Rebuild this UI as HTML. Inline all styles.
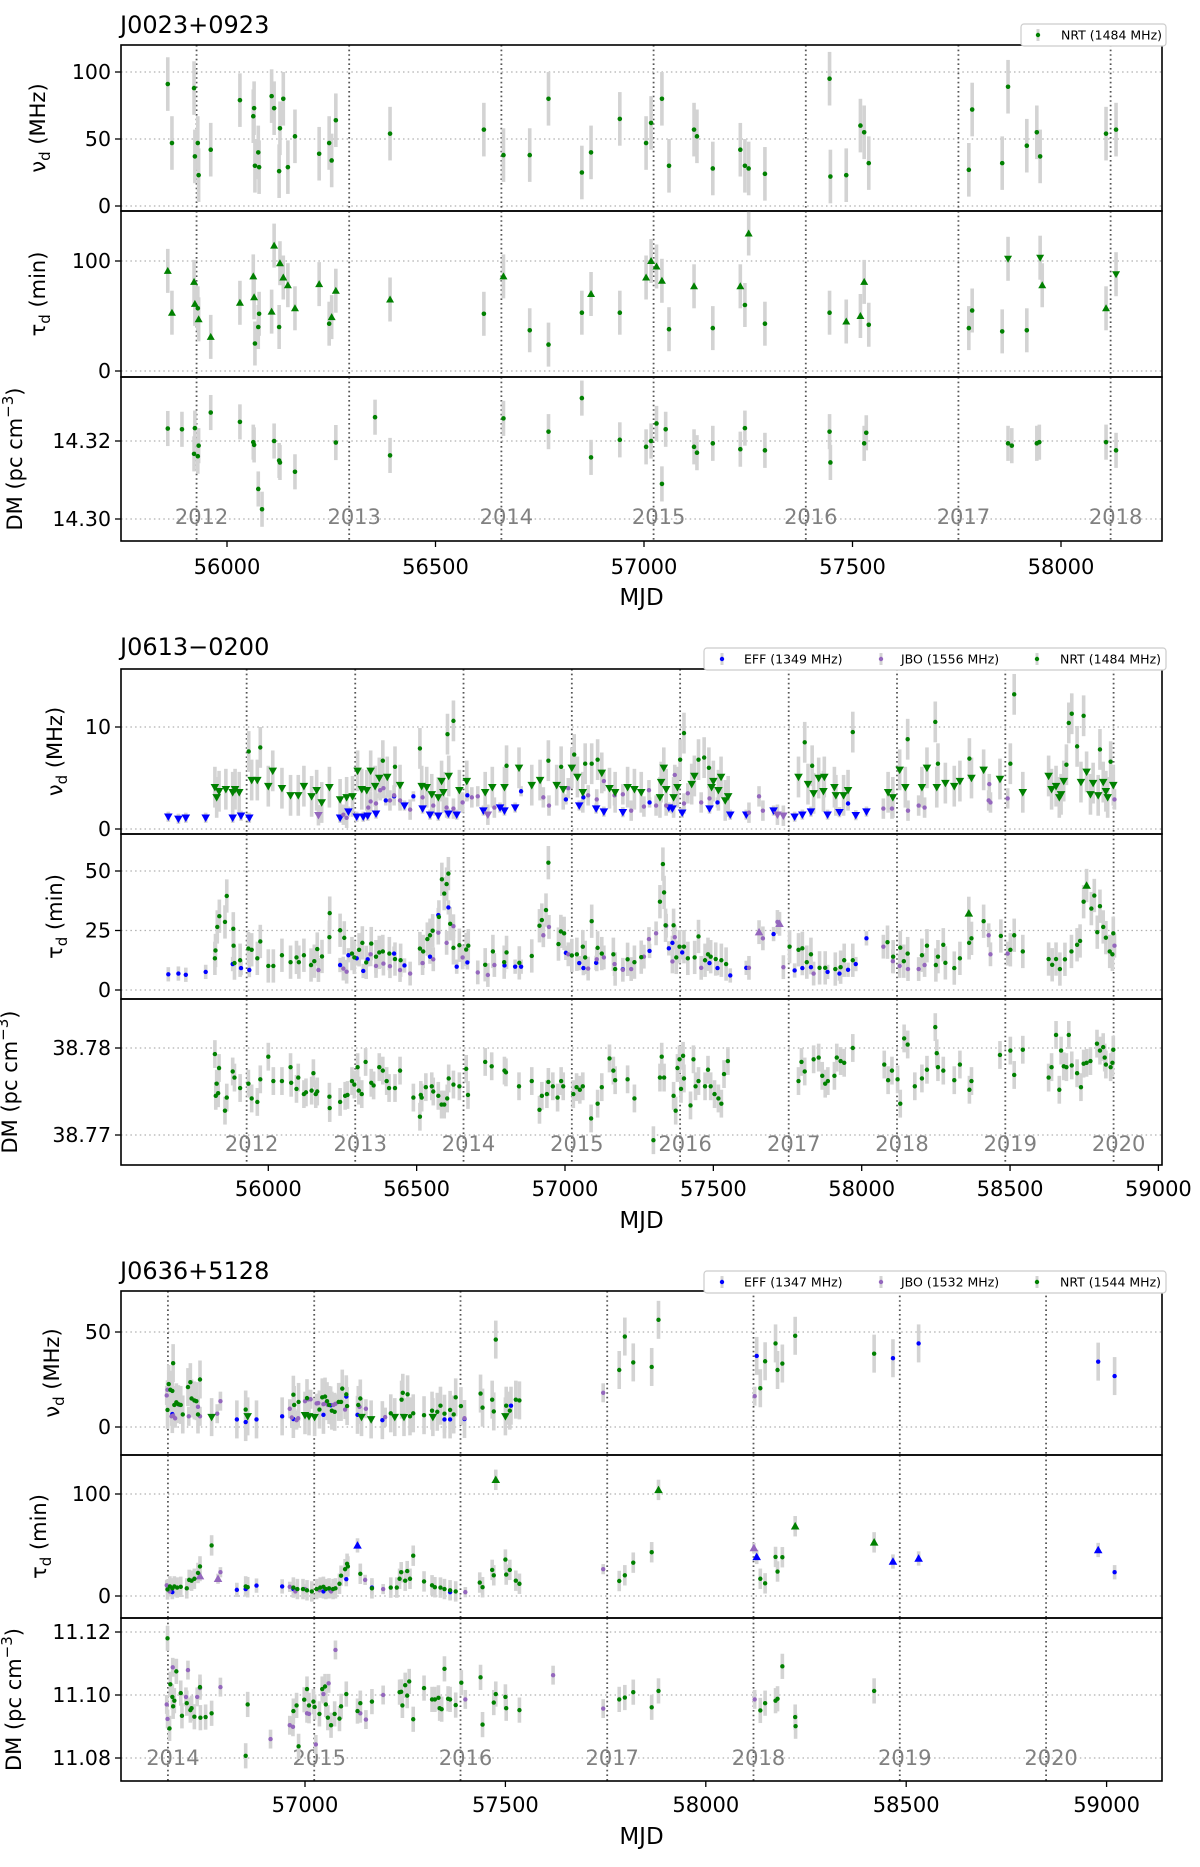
<!DOCTYPE html>
<html><head><meta charset="utf-8"><title>Scintillation parameters</title>
<style>
html,body{margin:0;padding:0;background:#fff;}
svg{display:block;font-family:"DejaVu Sans","Liberation Sans",sans-serif;}
</style></head>
<body>
<svg id="fig" xmlns="http://www.w3.org/2000/svg" width="1200" height="1867" viewBox="0 0 1200 1867"></svg>
<script>
// ================= DATA (MJD, value, marker: 0 dot, 1 lower-limit ▲, 2 upper-limit ▼) =================
const yearLabels = ["2012","2013","2014","2015","2016","2017","2018","2019","2020"];
const yearMJD = [55927,56293,56658,57023,57388,57754,58119,58484,58849];
const p1XTicks = [56000,56500,57000,57500,58000];
const p2XTicks = [56000,56500,57000,57500,58000,58500,59000];
const p3XTicks = [57000,57500,58000,58500,59000];
const p1NuTicks=[0,50,100], p1TauTicks=[0,100], p1DmTicks=[14.30,14.32];
const p2NuTicks=[0,10], p2TauTicks=[0,25,50], p2DmTicks=[38.77,38.78];
const p3NuTicks=[0,50], p3TauTicks=[0,100], p3DmTicks=[11.08,11.10,11.12];

const p1NrtNu = [[55858,91],[55868,47],[55921,88],[55923,37],[55930,47],[55932,23],[55961,42],[56031,79],[56063,67],[56065,73],[56067,30],[56075,40],[56077,29],[56107,82],[56113,73],[56125,26],[56127,58],[56135,80],[56146,29],[56163,52],[56221,39],[56245,47],[56251,34],[56261,64],[56391,54],[56616,57],[56663,38],[56726,38],[56771,80],[56851,25],[56873,40],[56942,65],[57005,47],[57017,62],[57043,80],[57060,30],[57120,57],[57127,52],[57165,28],[57231,42],[57242,30],[57251,28],[57290,24],[57445,95],[57447,22],[57485,23],[57519,60],[57528,55],[57539,32],[57779,27],[57787,72],[57859,32],[57873,89],[57918,45],[57942,55],[57950,37],[58108,54],[58132,57]];
const p1NrtTau = [[55858,91,1],[55868,53,1],[55921,81,1],[55923,61,1],[55930,57,0],[55932,47,1],[55961,31,1],[56031,62,1],[56063,86,1],[56065,67,1],[56067,25,0],[56075,40,0],[56077,52,0],[56107,54,1],[56113,114,1],[56125,40,0],[56127,98,1],[56135,85,1],[56146,78,1],[56163,57,1],[56221,79,1],[56245,43,0],[56251,49,1],[56261,73,1],[56391,65,1],[56616,52,0],[56663,86,1],[56726,37,0],[56771,24,0],[56851,53,0],[56873,70,1],[56942,53,0],[57005,85,1],[57017,100,1],[57030,95,1],[57043,82,1],[57060,38,0],[57120,77,1],[57165,39,0],[57231,77,1],[57242,60,0],[57251,125,1],[57290,43,0],[57445,53,0],[57485,45,1],[57519,50,1],[57528,81,1],[57539,42,0],[57779,39,0],[57787,55,0],[57859,36,0],[57873,102,2],[57918,37,0],[57950,103,2],[57955,78,1],[58108,57,1],[58132,88,2]];
const p1NrtDm = [[55858,14.3232],[55892,14.3230],[55921,14.3167],[55923,14.3233],[55930,14.3161],[55932,14.3188],[55961,14.3273],[56031,14.3249],[56063,14.3197],[56065,14.3190],[56075,14.3077],[56084,14.3025],[56113,14.3200],[56125,14.3150],[56127,14.3145],[56163,14.3121],[56261,14.3196],[56355,14.3261],[56391,14.3163],[56663,14.3258],[56771,14.3224],[56851,14.3310],[56873,14.3158],[56942,14.3203],[57005,14.3185],[57017,14.3200],[57030,14.3245],[57043,14.3090],[57052,14.3230],[57120,14.3185],[57127,14.3170],[57165,14.3194],[57231,14.3179],[57242,14.3233],[57290,14.3176],[57445,14.3224],[57447,14.3145],[57528,14.3194],[57533,14.3221],[57873,14.3194],[57882,14.3188],[57942,14.3194],[57948,14.3197],[58108,14.3197],[58132,14.3176]];

const p2EffNu = [[55663,1.2,2],[55697,1.0,2],[55722,1.1,2],[55789,1.1,2],[55880,1.1,2],[55908,1.3,2],[55936,1.1,2],[56242,1.1,2],[56270,1.7,2],[56298,1.2,2],[56320,1.2,2],[56335,1.3,2],[56363,1.5,2],[56396,2.8,0],[56424,3.2,0],[56459,2.3,2],[56489,3.2,0],[56520,2.0,2],[56545,1.4,2],[56573,1.3,2],[56607,1.5,2],[56635,1.4,2],[56671,3.3,0],[56725,1.8,2],[56781,2.1,2],[56796,1.8,2],[56832,2.1,2],[56852,3.7,0],[57003,2.9,0],[57048,2.3,2],[57062,3.1,0],[57105,2.0,2],[57131,1.7,2],[57195,1.65,2],[57285,2.6,0],[57350,2.1,2],[57362,2.0,2],[57395,1.6,2],[57487,2.0,2],[57514,2.6,0],[57557,1.4,2],[57611,1.4,2],[57703,1.8,2],[57774,1.2,2],[57800,1.4,2],[57829,1.7,2],[57885,1.4,2],[57925,1.65,2],[57954,2.5,0],[57980,1.35,2],[58016,1.7,2]];
const p2JboNu = [[56169,1.35,2],[56253,1.4,0],[56264,1.1,0],[56337,2.1,0],[56345,2.7,0],[56363,2.5,0],[56377,3.8,0],[56388,4.0,0],[56410,2.8,0],[56424,3.3,0],[56444,2.8,0],[56478,1.9,0],[56520,3.1,0],[56556,2.3,0],[56601,2.1,0],[56624,2.0,0],[56655,2.6,0],[56686,3.1,0],[56706,3.2,0],[56740,1.4,2],[56762,2.1,0],[56927,3.1,0],[56946,2.3,0],[57011,4.0,0],[57078,3.3,0],[57107,2.9,0],[57131,4.7,0],[57167,3.3,0],[57195,3.4,0],[57223,1.8,0],[57266,2.2,0],[57283,3.8,0],[57307,2.3,0],[57341,2.3,0],[57370,5.3,0],[57401,2.5,0],[57414,3.5,0],[57459,2.6,0],[57487,3.0,0],[57620,1.6,0],[57654,3.2,0],[57667,1.8,0],[57716,1.4,2],[57736,1.3,2],[58073,2.0,0],[58102,2.0,0],[58156,1.8,0],[58192,2.3,0],[58212,2.1,0],[58428,2.8,0],[58434,2.6,0],[58430,4.4,0],[58492,3.0,0],[58852,2.9,0]];
const p2NrtNu = [[55820,4.1,2],[55826,3.1,2],[55834,3.7,2],[55857,3.9,2],[55880,3.6,2],[55888,3.9,2],[55902,3.6,2],[55934,7.6,0],[55944,4.8,2],[55963,4.8,2],[55973,8.0,0],[56000,4.2,2],[56015,5.7,2],[56046,4.0,2],[56075,3.3,2],[56101,3.3,2],[56120,4.2,2],[56146,3.2,2],[56163,3.8,2],[56180,2.6,2],[56206,4.1,2],[56242,2.9,2],[56264,3.1,2],[56284,3.2,2],[56301,5.7,2],[56315,3.9,2],[56332,3.8,2],[56345,5.7,2],[56360,4.2,2],[56374,5.0,2],[56386,6.7,0],[56401,5.1,2],[56427,6.1,0],[56444,4.3,2],[56511,7.9,0],[56517,4.2,2],[56534,4.1,2],[56551,3.4,2],[56573,3.1,2],[56584,4.7,2],[56590,3.6,2],[56604,9.3,0],[56608,5.2,2],[56624,10.6,0],[56644,3.8,2],[56669,4.7,2],[56731,3.6,2],[56755,4.1,2],[56796,4.1,2],[56803,6.2,0],[56845,6.0,2],[56888,4.3,2],[56916,4.8,2],[56944,6.7,0],[56972,4.3,2],[56987,6.1,0],[56994,3.9,2],[57023,6.0,2],[57031,7.3,0],[57042,5.1,2],[57060,3.6,2],[57068,6.4,0],[57090,6.4,0],[57110,6.8,0],[57124,5.5,2],[57150,4.0,2],[57169,3.6,2],[57211,4.1,2],[57234,3.9,2],[57257,3.6,2],[57320,3.1,2],[57324,4.6,2],[57333,6.0,2],[57341,3.9,2],[57366,3.1,2],[57379,4.1,2],[57388,6.8,0],[57401,9.4,0],[57427,4.4,2],[57436,5.2,2],[57450,6.8,0],[57469,7.0,0],[57485,6.0,0],[57494,4.1,2],[57500,4.7,2],[57517,3.8,2],[57526,5.1,2],[57540,2.8,2],[57550,3.2,2],[57787,5.1,2],[57808,8.5,0],[57819,4.4,2],[57833,6.2,0],[57838,3.5,2],[57855,5.0,2],[57871,3.7,2],[57874,5.1,2],[57908,4.1,2],[57913,3.3,2],[57939,3.3,2],[57954,3.8,2],[57970,9.5,0],[58089,3.6,2],[58105,3.1,2],[58128,5.8,2],[58147,4.1,2],[58155,8.8,0],[58203,4.1,2],[58220,6.0,2],[58248,10.5,0],[58253,4.1,2],[58257,6.4,0],[58282,4.5,2],[58312,4.2,2],[58331,4.7,2],[58363,6.9,0],[58370,5.0,2],[58411,5.8,2],[58466,4.9,2],[58501,6.4,0],[58514,13.2,0],[58543,3.6,2],[58630,5.2,2],[58640,3.9,2],[58655,4.2,2],[58666,3.1,2],[58672,3.4,2],[58681,4.7,2],[58690,6.3,0],[58698,10.4,0],[58708,11.3,0],[58726,8.1,0],[58739,4.6,2],[58748,11.1,0],[58758,5.6,2],[58771,3.4,2],[58780,4.5,2],[58797,3.3,2],[58803,7.8,0],[58814,4.6,2],[58823,3.7,2],[58829,3.1,2],[58839,6.6,0],[58848,4.3,2]];
const p2EffTau = [[55663,6.6],[55697,6.9],[55722,6.4],[55789,7.6],[55880,10.9],[55908,9.2],[55936,8.4],[56242,10.5],[56270,14.6],[56298,13.3],[56320,8.0],[56335,12.9],[56424,15.3],[56459,10.3],[56545,14.0],[56573,31.5],[56607,34.7],[56635,9.8],[56671,11.6],[56796,10.3],[56832,9.8],[56852,9.8],[57003,15.6],[57048,11.3],[57062,9.2],[57105,11.4],[57195,8.7],[57285,16.4],[57350,17.5],[57362,19.8],[57395,15.8],[57487,11.3],[57514,9.2],[57557,6.1],[57611,9.3],[57703,23.5],[57774,8.2],[57800,9.2],[57829,9.6],[57885,7.6],[57925,6.9],[57954,8.5],[57980,10.9],[58016,21.7]];
const p2JboTau = [[56169,8.4],[56253,9.0],[56264,7.7],[56345,15.0],[56363,10.1],[56388,11.1],[56410,10.0],[56444,8.4],[56478,6.9],[56520,11.3],[56556,12.9],[56573,24.1],[56601,19.8],[56624,26.8],[56655,13.7],[56706,7.4],[56740,6.3],[56762,10.5],[56927,23.0],[56946,26.5],[57011,15.0],[57078,9.0],[57107,12.9],[57131,13.7],[57167,10.9],[57195,8.5],[57223,8.8],[57266,14.0],[57283,21.4],[57307,23.8],[57341,27.0],[57362,12.0],[57370,22.2],[57459,9.3],[57620,9.3],[57654,24.3,1],[57667,21.7],[57716,28.6],[57723,27.8,1],[57736,9.6],[57838,6.9],[58073,18.2],[58105,12.1],[58128,10.1],[58156,8.8],[58192,8.8],[58212,10.5],[58428,23.0],[58434,15.0],[58492,15.3],[58852,18.6]];
const p2NrtTau = [[55820,13.3],[55822,16.6],[55828,26.5],[55835,31.0],[55854,28.6],[55860,39.5],[55882,25.7],[55883,18.6],[55886,11.3],[55905,12.5],[55933,17.4],[55944,16.9],[55963,13.3],[55973,20.4],[56000,10.1],[56017,10.1],[56046,14.6],[56075,11.7],[56095,13.7],[56103,11.7],[56120,14.6],[56144,10.5],[56155,12.1],[56165,17.2],[56181,14.1],[56206,22.2],[56207,32.3],[56242,25.1],[56256,21.9],[56282,15.3],[56290,13.7],[56306,16.9],[56317,19.8],[56330,11.6],[56347,19.5],[56363,14.0],[56374,15.8],[56386,16.2],[56408,15.3],[56427,13.0],[56446,12.5],[56511,17.4],[56522,16.2],[56536,21.4],[56545,23.0],[56554,24.9],[56575,30.7],[56585,46.5],[56593,40.5],[56601,44.5],[56607,48.9],[56613,27.8],[56624,17.7],[56644,18.8],[56667,17.0],[56674,18.6],[56731,10.6],[56757,16.2],[56795,11.7],[56803,15.8],[56846,11.4],[56888,14.3],[56914,27.0],[56922,29.4],[56936,33.6],[56944,53.5],[56978,19.3],[56986,24.6],[56997,23.8],[57023,14.5],[57040,15.0],[57060,18.2],[57068,13.7],[57090,28.9],[57110,17.7],[57124,15.3],[57163,15.0],[57169,8.8],[57211,12.9],[57234,11.7],[57257,13.8],[57320,37.1],[57330,52.9],[57334,41.0],[57339,27.2],[57366,27.2],[57375,13.7],[57386,18.2],[57401,18.2],[57414,13.3],[57437,13.7],[57450,22.5],[57472,12.5],[57482,15.0],[57491,14.0],[57508,13.0],[57527,12.5],[57543,10.9],[57757,18.2],[57787,16.9],[57800,17.5],[57815,11.7],[57829,15.0],[57858,9.3],[57877,9.3],[57911,8.8],[57929,9.6],[57941,12.5],[57970,12.5],[58087,20.1],[58106,14.0],[58130,17.8],[58142,12.1],[58155,15.3],[58203,14.6],[58220,18.6],[58250,10.5],[58257,14.0],[58275,19.0],[58282,11.4],[58312,9.2],[58331,13.3],[58361,32.2,1],[58362,19.8],[58370,21.7],[58411,28.9],[58469,22.7],[58501,16.9],[58514,23.0],[58543,16.2],[58630,13.0],[58642,10.6],[58655,13.0],[58668,8.8],[58685,12.9],[58707,16.2],[58726,19.0],[58736,20.6],[58748,37.1],[58758,43.9,1],[58774,34.2],[58784,39.7],[58794,24.3],[58803,35.2],[58814,26.5],[58823,22.0],[58836,16.2],[58845,15.0],[58848,23.8]];
const p2NrtDm = [[55820,38.7793],[55823,38.7745],[55826,38.7759],[55831,38.7748],[55834,38.7777],[55854,38.7728],[55860,38.7743],[55880,38.7773],[55886,38.7766],[55905,38.7754],[55933,38.7759],[55944,38.7742],[55963,38.7738],[55973,38.7764],[56000,38.7790],[56017,38.7762],[56046,38.7762],[56075,38.7778],[56077,38.7760],[56095,38.7753],[56101,38.7766],[56120,38.7747],[56127,38.7749],[56146,38.7751],[56152,38.7771],[56160,38.7747],[56165,38.7750],[56206,38.7744],[56207,38.7731],[56242,38.7738],[56259,38.7745],[56267,38.7746],[56282,38.7762],[56290,38.7758],[56301,38.7778],[56305,38.7751],[56315,38.7747],[56328,38.7784],[56347,38.7760],[56355,38.7757],[56374,38.7778],[56386,38.7774],[56399,38.7762],[56407,38.7754],[56427,38.7754],[56444,38.7774],[56489,38.7743],[56511,38.7721],[56514,38.7746],[56517,38.7743],[56531,38.7755],[56551,38.7756],[56556,38.7750],[56573,38.7745],[56584,38.7735],[56593,38.7735],[56603,38.7742],[56608,38.7765],[56624,38.7758],[56644,38.7756],[56667,38.7776],[56673,38.7746],[56731,38.7784],[56753,38.7779],[56796,38.7774],[56801,38.7772],[56845,38.7756],[56888,38.7762],[56914,38.7729],[56922,38.7745],[56939,38.7747],[56944,38.7761],[56959,38.7756],[56975,38.7743],[56987,38.7762],[56994,38.7756],[57028,38.7747],[57039,38.7755],[57050,38.7752],[57060,38.7756],[57088,38.7719],[57110,38.7736],[57124,38.7755],[57150,38.7788],[57163,38.7774],[57169,38.7763],[57211,38.7764],[57234,38.7742],[57298,38.7694],[57320,38.7766],[57326,38.7790],[57334,38.7766],[57366,38.7745],[57373,38.7728],[57379,38.7777],[57386,38.7787],[57391,38.7753],[57398,38.7791],[57401,38.7765],[57423,38.7734],[57433,38.7787],[57440,38.7756],[57450,38.7762],[57472,38.7756],[57482,38.7775],[57491,38.7756],[57504,38.7747],[57517,38.7742],[57527,38.7736],[57536,38.7770],[57549,38.7785],[57787,38.7762],[57797,38.7784],[57808,38.7773],[57838,38.7787],[57855,38.7789],[57867,38.7768],[57877,38.7759],[57886,38.7762],[57908,38.7768],[57916,38.7789],[57929,38.7785],[57941,38.7783],[57970,38.7800],[58076,38.7781],[58089,38.7763],[58102,38.7774],[58121,38.7764],[58130,38.7736],[58143,38.7811],[58155,38.7804],[58179,38.7756],[58203,38.7765],[58220,38.7775],[58248,38.7824],[58253,38.7794],[58257,38.7778],[58275,38.7774],[58312,38.7763],[58331,38.7781],[58363,38.7752],[58370,38.7762],[58466,38.7792],[58501,38.7797],[58514,38.7769],[58543,38.7798],[58630,38.7766],[58640,38.7778],[58655,38.7815],[58666,38.7752],[58672,38.7797],[58681,38.7779],[58690,38.7778],[58698,38.7815],[58708,38.7780],[58726,38.7771],[58739,38.7755],[58748,38.7782],[58758,38.7783],[58771,38.7785],[58793,38.7805],[58803,38.7797],[58814,38.7801],[58819,38.7789],[58823,38.7781],[58839,38.7778],[58845,38.7783],[58848,38.7798]];

const p3EffNu = [[56669,6.8],[56830,4.0],[56852,2.6],[56879,4.0],[56943,5.6],[56971,4.2],[57046,6.4],[57064,11.4],[57103,16.0],[57131,6.4],[57193,3.6],[57348,4.0],[57362,4.0],[57398,4.2],[57514,11.2],[58127,37.4],[58467,36.2],[58531,44.0],[58979,34.4],[59020,26.8]];
const p3JboNu = [[56655,16.6],[56657,19.6],[56667,5.6],[56671,6.0],[56676,4.6],[56686,11.6],[56710,5.6],[56733,10.6],[56738,5.6],[56781,7.0],[56789,13.6],[56962,9.6],[56967,5.0],[56979,3.6],[56983,4.6],[57000,13.6],[57008,14.6],[57014,14.6],[57029,12.4],[57033,12.6],[57046,12.0],[57052,12.6],[57057,11.6],[57071,11.6],[57076,12.2],[57100,9.2],[57136,10.6],[57152,9.6],[57200,5.2],[57398,4.6],[57744,18.0],[58122,16.2]];
const p3NrtNu = [[56657,9,0],[56660,22.6,0],[56664,19.6,0],[56669,19,0],[56671,33.6,0],[56674,11.6,0],[56679,13,0],[56684,12,0],[56690,11.6,0],[56695,6.6,0],[56708,21,0],[56714,23.6,0],[56717,15,0],[56724,14,0],[56729,13.6,0],[56733,6.6,0],[56738,25,0],[56767,5.2,2],[56852,9.2,0],[56857,5.6,2],[56971,17,0],[56973,11.6,0],[56984,13.2,0],[57000,6.2,2],[57005,15.2,0],[57010,5.6,2],[57024,5.2,2],[57036,9.2,0],[57043,15.6,0],[57050,16,0],[57055,13.6,0],[57060,11.6,0],[57067,8.6,0],[57074,8,0],[57084,13.2,0],[57090,13.2,0],[57093,20.2,0],[57103,17.2,0],[57105,11,0],[57133,11.6,0],[57138,15,0],[57141,5.2,2],[57165,4,2],[57214,7.2,0],[57224,5.2,2],[57241,14.4,0],[57244,18,0],[57247,5.2,2],[57256,17.2,0],[57262,5.6,0],[57270,7.2,0],[57297,6.2,0],[57317,8.6,0],[57319,5.2,2],[57330,8,0],[57338,11.2,0],[57348,7,0],[57362,9,0],[57371,6.6,0],[57376,15.6,0],[57389,11,0],[57438,17.6,0],[57443,10.2,0],[57467,14.4,0],[57471,8.2,0],[57476,46,0],[57500,5.6,2],[57502,11.2,0],[57511,8.6,0],[57526,14.4,0],[57535,14,0],[57784,30,0],[57798,47.6,0],[57819,34,0],[57865,31.6,0],[57882,56.4,0],[58136,20.4,0],[58148,34.6,0],[58174,44,0],[58179,30,0],[58191,33.4,0],[58223,48,0],[58420,38.6,0]];
const p3EffTau = [[56669,3.8,0],[56830,6,0],[56852,6.8,0],[56879,10.2,0],[56943,9.4,0],[56971,6.8,0],[57046,4.5,0],[57064,5.3,0],[57103,16.5,0],[57131,49.6,1],[57167,8.3,0],[57362,3.8,0],[58127,38.3,1],[58467,33.8,1],[58531,36.8,1],[58979,45.1,1],[59020,23.3,0]];
const p3JboTau = [[56655,10.5,0],[56662,4.5,0],[56738,19.5,1],[56783,16.9,1],[56789,23.3,0],[56962,9.0,0],[56976,4.5,0],[57000,6.8,0],[57036,5.6,0],[57065,4.5,0],[57150,15.8,0],[57195,6.8,0],[57400,3.8,0],[57744,26.3,0],[58120,47,1]];
const p3NrtTau = [[56657,6.4,0],[56663,9.4,0],[56669,7.5,0],[56674,9.4,0],[56681,8.3,0],[56690,9.0,0],[56705,7.5,0],[56711,15.8,0],[56717,15,0],[56724,16.9,0],[56733,22.6,0],[56738,29,0],[56767,49.6,0],[56852,9.4,0],[56857,8.6,0],[56971,8.3,0],[56981,6.8,0],[56995,6.8,0],[57005,5.6,0],[57017,4.5,0],[57029,6.8,0],[57038,8.3,0],[57046,9.0,0],[57052,6.8,0],[57060,7.5,0],[57070,6.8,0],[57076,7.5,0],[57086,12,0],[57090,19.9,0],[57100,26.3,0],[57105,31.6,0],[57107,29,0],[57138,21.8,0],[57167,7.5,0],[57214,8.3,0],[57229,8.3,0],[57236,16.9,0],[57240,23.3,0],[57250,15,0],[57255,24.4,0],[57262,16.9,0],[57270,39.5,0],[57297,14.3,0],[57317,10.5,0],[57324,8.6,0],[57338,8.3,0],[57348,6.8,0],[57362,5.6,0],[57376,4.5,0],[57436,13.2,0],[57443,8.6,0],[57467,25.6,0],[57471,20.3,0],[57476,113.9,1],[57500,35.7,0],[57502,21,0],[57511,25.6,0],[57526,15,0],[57535,12,0],[57784,14.7,0],[57798,20.3,0],[57819,32.7,0],[57865,42.9,0],[57882,104,1],[58136,16.9,0],[58148,12.4,0],[58174,38.3,0],[58179,24,0],[58191,38,0],[58223,68.4,1],[58420,52.6,1]];
const p3JboDm = [[56655,11.0970],[56657,11.0924],[56670,11.1088],[56703,11.0994],[56708,11.1079],[56731,11.0994],[56738,11.1022],[56789,11.1025],[56914,11.0860],[56962,11.0904],[56970,11.0899],[57005,11.0942],[57010,11.0940],[57027,11.0843],[57046,11.1003],[57059,11.1037],[57076,11.1143],[57138,11.0942],[57152,11.0922],[57195,11.1000],[57400,11.0986],[57619,11.1063],[57744,11.0957],[58122,11.0986]];
const p3NrtDm = [[56657,11.1180],[56662,11.0894],[56664,11.1034],[56669,11.0994],[56671,11.0964],[56674,11.0982],[56679,11.1075],[56690,11.1006],[56693,11.0934],[56705,11.0974],[56714,11.0952],[56717,11.0958],[56724,11.0931],[56738,11.1025],[56739,11.0928],[56752,11.0930],[56767,11.0942],[56852,11.0807],[56857,11.0970],[56971,11.0949],[56979,11.0967],[56984,11.0837],[56998,11.0985],[57005,11.1019],[57010,11.0967],[57021,11.0979],[57024,11.0962],[57036,11.0940],[57043,11.1019],[57050,11.1027],[57052,11.0970],[57057,11.0928],[57065,11.0904],[57074,11.0940],[57086,11.0925],[57090,11.0964],[57103,11.1003],[57131,11.0949],[57138,11.0974],[57167,11.0979],[57236,11.1009],[57240,11.1010],[57243,11.0967],[57250,11.1031],[57255,11.0998],[57260,11.1043],[57270,11.0923],[57297,11.1022],[57317,11.0986],[57324,11.0986],[57333,11.0991],[57336,11.0958],[57341,11.0955],[57348,11.1083],[57357,11.0988],[57362,11.0986],[57376,11.0968],[57390,11.1039],[57438,11.1056],[57443,11.0906],[57471,11.0976],[57476,11.1003],[57500,11.0994],[57502,11.0958],[57535,11.0952],[57784,11.0986],[57798,11.0992],[57819,11.1009],[57865,11.0961],[57882,11.1013],[58136,11.0951],[58148,11.0974],[58174,11.0982],[58179,11.0988],[58191,11.1091],[58223,11.0930],[58224,11.0901],[58420,11.1013]];

// ================= RENDERING =================
const NS="http://www.w3.org/2000/svg";
const svg=document.getElementById('fig');
const COL={EFF:"#0000ff",JBO:"#9467bd",NRT:"#008000"};
function mk(tag,attrs,parent){const e=document.createElementNS(NS,tag);for(const k in attrs)e.setAttribute(k,attrs[k]);(parent||svg).appendChild(e);return e;}
function txt(s,attrs,parent){const e=mk('text',attrs,parent);e.textContent=s;return e;}

let clipId=0;
function drawPanel(P){
  const g=mk('g',{});
  
  
  const xs=m=>P.x0+(m-P.m0)*P.kx;
  const L=P.left,R=P.right;
  // title
  const t=txt(P.title,{x:L-1,y:P.titleY,'font-size':24,fill:'#000'},g);
  
  
  P.subs.forEach((S,si)=>{
    const ys=v=>S.y0+(v-S.v0)*S.ky;
    const sg=mk('g',{},g);
    
    
    const cid='c'+(clipId++);
    const cp=mk('clipPath',{id:cid},sg);
    mk('rect',{x:L,y:S.top,width:R-L,height:S.bot-S.top},cp);
    // horizontal grid + ticks
    S.ticks.forEach(v=>{
      const y=ys(v);
      const gl=mk('line',{x1:L,x2:R,y1:y,y2:y,stroke:'#b0b0b0','stroke-width':1.2,'stroke-dasharray':'1.5,3.2'},sg);
      
      
      mk('line',{x1:L-6,x2:L,y1:y,y2:y,stroke:'#000','stroke-width':1.3},sg);
      const tl=txt(v.toFixed(S.dec),{x:L-10,y:y+7,'font-size':20.5,'text-anchor':'end',fill:'#000'},sg);
      
      
    });
    // year lines
    yearMJD.forEach((ym,i)=>{
      const x=xs(ym); if(x<L||x>R) return;
      const yl=mk('line',{x1:x,x2:x,y1:S.top,y2:S.bot,stroke:'#555','stroke-width':1.8,'stroke-dasharray':'1.6,3'},sg);
      
      
      if(si===2){
        const ylab=txt(yearLabels[i],{x:x+5,y:P.yearY+7,'font-size':21,'text-anchor':'middle',fill:'#808080'},sg);
        
        
      }
    });
    const mg=mk('g',{'clip-path':'url(#'+cid+')'},sg);
    S.series.forEach(se=>{
      const sgrp=mk('g',{},mg);
      
      
      se.data.forEach(d=>{
        const x=xs(d[0]),y=ys(d[1]);const e=Math.abs(se.err*S.ky);
        const eb=mk('line',{x1:x,x2:x,y1:y-e,y2:y+e,stroke:'#d3d3d3','stroke-width':3.6},sgrp);
        
        
      });
    });
    S.series.forEach(se=>{
      const sgrp=mk('g',{},mg);
      
      
      se.data.forEach(d=>{
        const x=xs(d[0]),y=ys(d[1]);const m=d[2]||0;const c=COL[se.tel];let el;
        if(m===0){el=mk('circle',{cx:x,cy:y,r:P.r,fill:c},sgrp);}
        else{const s=P.tri;const pts=m===1?[[x,y-s],[x-s,y+s*0.75],[x+s,y+s*0.75]]:[[x,y+s],[x-s,y-s*0.75],[x+s,y-s*0.75]];
          el=mk('polygon',{points:pts.map(p=>p.join(',')).join(' '),fill:c},sgrp);}
        
        
      });
    });
    mk('rect',{x:L,y:S.top,width:R-L,height:S.bot-S.top,fill:'none',stroke:'#000','stroke-width':1.6},sg);
    // y label
    const lb=mk('text',{transform:`translate(${S.labX},${(S.top+S.bot)/2}) rotate(-90)`,'font-size':21,'text-anchor':'middle',fill:'#000'},sg);
    
    
    S.label(lb);
  });
  // x axis ticks
  const bot=P.subs[2].bot;
  P.xticks.forEach(m=>{
    const x=xs(m);
    mk('line',{x1:x,x2:x,y1:bot,y2:bot+6,stroke:'#000','stroke-width':1.3},g);
    const tl=txt(String(m),{x:x,y:P.xTickY+7,'font-size':21,'text-anchor':'middle',fill:'#000'},g);
    
    
  });
  const xl=txt('MJD',{x:(L+R)/2,y:P.mjdY+8,'font-size':23,'text-anchor':'middle',fill:'#000'},g);
  
  
  // legend
  const lg=mk('g',{},g);
  
  
  mk('rect',{x:P.leg.x,y:P.leg.y,width:P.leg.w,height:22,rx:3,fill:'#fff',stroke:'#cccccc','stroke-width':1.2},lg);
  P.leg.items.forEach(it=>{
    const ent=mk('g',{},lg);
    
    
    const cy=P.leg.y+11;
    mk('line',{x1:it.mx,x2:it.mx,y1:cy-6,y2:cy+6,stroke:'#d3d3d3','stroke-width':3},ent);
    mk('circle',{cx:it.mx,cy:cy,r:2.2,fill:COL[it.tel]},ent);
    txt(it.text,{x:it.tx,y:cy+4.5,'font-size':12.5,fill:'#000'},ent);
  });
}
const nuL=el=>{el.innerHTML='ν<tspan font-size="15" dy="5">d</tspan><tspan dy="-5"> (MHz)</tspan>';};
const tauL=el=>{el.innerHTML='τ<tspan font-size="15" dy="5">d</tspan><tspan dy="-5"> (min)</tspan>';};
const dmL=el=>{el.innerHTML='DM (pc cm<tspan font-size="15" dy="-9">−3</tspan><tspan dy="9">)</tspan>';};
const leg3=(a,b,c)=>[{tel:'EFF',mx:722,tx:744,text:a},{tel:'JBO',mx:881,tx:901,text:b},{tel:'NRT',mx:1037,tx:1060,text:c}];

drawPanel({name:'panel-j0023',title:'J0023+0923',titleY:33,left:121,right:1162,x0:227,m0:56000,kx:0.417,r:2.3,tri:4,
  xticks:p1XTicks,xTickY:567,mjdY:597,yearY:517,
  leg:{x:1021,y:24,w:145,items:[{tel:'NRT',mx:1038,tx:1061,text:'NRT (1484 MHz)'}]},
  subs:[
   {name:'nu-subplot',top:45,bot:211,y0:206,v0:0,ky:-1.34,ticks:p1NuTicks,dec:0,labX:45,label:nuL,series:[{tel:'NRT',data:p1NrtNu,err:20}]},
   {name:'tau-subplot',top:211,bot:377,y0:371,v0:0,ky:-1.1,ticks:p1TauTicks,dec:0,labX:45,label:tauL,series:[{tel:'NRT',data:p1NrtTau,err:20}]},
   {name:'dm-subplot',top:377,bot:541,y0:519,v0:14.30,ky:-3900,ticks:p1DmTicks,dec:2,labX:22,label:dmL,series:[{tel:'NRT',data:p1NrtDm,err:0.0045}]}
  ]});
drawPanel({name:'panel-j0613',title:'J0613−0200',titleY:655,left:121,right:1162,x0:268.3,m0:56000,kx:0.2967,r:2.2,tri:4.3,
  xticks:p2XTicks,xTickY:1189,mjdY:1220,yearY:1144,
  leg:{x:704,y:648,w:462,items:leg3('EFF (1349 MHz)','JBO (1556 MHz)','NRT (1484 MHz)')},
  subs:[
   {name:'nu-subplot',top:669,bot:834,y0:829,v0:0,ky:-10.2,ticks:p2NuTicks,dec:0,labX:62,label:nuL,series:[{tel:'EFF',data:p2EffNu,err:0.5},{tel:'JBO',data:p2JboNu,err:1.0},{tel:'NRT',data:p2NrtNu,err:2.0}]},
   {name:'tau-subplot',top:834,bot:999,y0:990,v0:0,ky:-2.38,ticks:p2TauTicks,dec:0,labX:62,label:tauL,series:[{tel:'EFF',data:p2EffTau,err:3},{tel:'JBO',data:p2JboTau,err:5},{tel:'NRT',data:p2NrtTau,err:7}]},
   {name:'dm-subplot',top:999,bot:1165,y0:1135,v0:38.77,ky:-8700,ticks:p2DmTicks,dec:2,labX:17,label:dmL,series:[{tel:'NRT',data:p2NrtDm,err:0.0016}]}
  ]});
drawPanel({name:'panel-j0636',title:'J0636+5128',titleY:1279,left:121,right:1162,x0:305,m0:57000,kx:0.4008,r:2.2,tri:4.3,
  xticks:p3XTicks,xTickY:1805,mjdY:1836,yearY:1758,
  leg:{x:704,y:1271,w:462,items:leg3('EFF (1347 MHz)','JBO (1532 MHz)','NRT (1544 MHz)')},
  subs:[
   {name:'nu-subplot',top:1291,bot:1455,y0:1427,v0:0,ky:-1.9,ticks:p3NuTicks,dec:0,labX:59,label:nuL,series:[{tel:'EFF',data:p3EffNu,err:10},{tel:'JBO',data:p3JboNu,err:5},{tel:'NRT',data:p3NrtNu,err:10}]},
   {name:'tau-subplot',top:1455,bot:1618,y0:1596,v0:0,ky:-1.02,ticks:p3TauTicks,dec:0,labX:46,label:tauL,series:[{tel:'EFF',data:p3EffTau,err:7},{tel:'JBO',data:p3JboTau,err:5},{tel:'NRT',data:p3NrtTau,err:10}]},
   {name:'dm-subplot',top:1618,bot:1781,y0:1758,v0:11.08,ky:-3150,ticks:p3DmTicks,dec:2,labX:21,label:dmL,series:[{tel:'JBO',data:p3JboDm,err:0.003},{tel:'NRT',data:p3NrtDm,err:0.004}]}
  ]});
</script>
</body></html>
